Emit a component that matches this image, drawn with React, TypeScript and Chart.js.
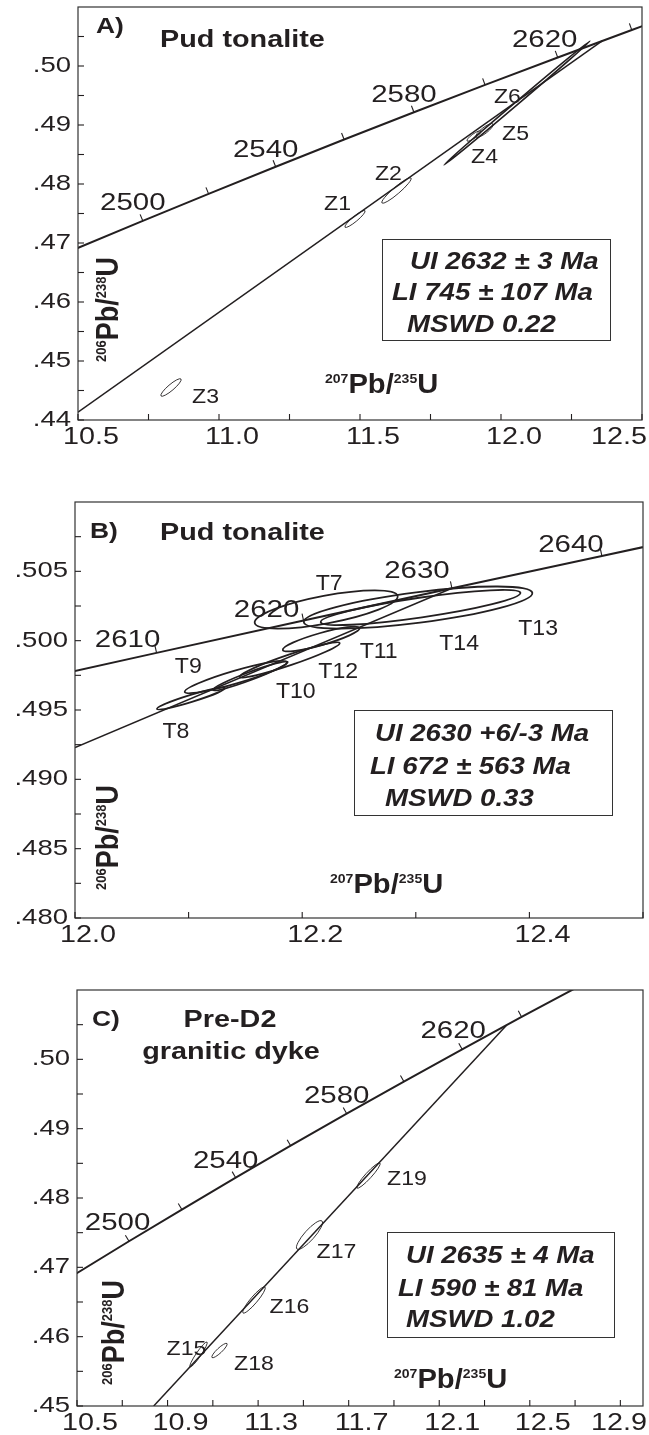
import React, { useEffect, useRef } from "react";
import { Chart, registerables } from "chart.js";

Chart.register(...registerables);

// ---------------- Concordia reference points (age Ma, 207Pb/235U, 206Pb/238U) ----------------
const concordiaAges = [2460, 2480, 2500, 2520, 2540, 2560, 2580, 2600, 2620, 2640, 2660, 2680];
const concordiaX = [10.2766, 10.5009, 10.7297, 10.9631, 11.201, 11.4437, 11.6913, 11.9437, 12.2012, 12.4638, 12.7316, 13.0048];
const concordiaY = [0.46464, 0.46919, 0.47376, 0.47833, 0.48293, 0.48754, 0.49216, 0.49679, 0.50145, 0.50611, 0.51079, 0.51548];

const concordiaAgesB = [2600, 2610, 2620, 2630, 2640, 2650];
const concordiaXB = [11.9437, 12.0718, 12.2012, 12.3318, 12.4638, 12.597];
const concordiaYB = [0.49679, 0.49912, 0.50145, 0.50378, 0.50611, 0.50845];

// ---------------- Panel A ----------------
const xMajorA = [10.5, 11.0, 11.5, 12.0, 12.5];
const xLabelsA = ["10.5", "11.0", "11.5", "12.0", "12.5"];
const xMinorA = [10.75, 11.25, 11.75, 12.25];
const yMajorA = [0.44, 0.45, 0.46, 0.47, 0.48, 0.49, 0.5];
const yLabelsA = [".44", ".45", ".46", ".47", ".48", ".49", ".50"];
const yMinorA = [0.445, 0.455, 0.465, 0.475, 0.485, 0.495, 0.505];
const tickAgesA = [2500, 2520, 2540, 2560, 2580, 2600, 2620, 2640];
const labelAgesA = [2500, 2540, 2580, 2620];
const discordiaXA = [10.5, 12.3588];
const discordiaYA = [0.44132, 0.50425];
const grainsA = ["Z1", "Z2", "Z3", "Z4", "Z5", "Z6"];
const grainXA = [11.4823, 11.6294, 10.8298, 11.9043, 11.9415, 12.0567];
const grainYA = [0.47407, 0.4789, 0.44551, 0.48814, 0.48907, 0.49373];
const grainEndXA = [11.5177, 11.6809, 10.8652, 11.929, 11.9716, 12.3156];
const grainEndYA = [0.47547, 0.48102, 0.44695, 0.48898, 0.49017, 0.50424];
const grainRatioA = [0.2, 0.18, 0.23, 0.25, 0.28, 0.016];
const resultA = ["UI 2632 ± 3 Ma", "LI 745 ± 107 Ma", "MSWD 0.22"];

// ---------------- Panel B ----------------
const xMajorB = [12.0, 12.2, 12.4];
const xLabelsB = ["12.0", "12.2", "12.4"];
const xMinorB = [12.1, 12.3, 12.5];
const yMajorB = [0.48, 0.485, 0.49, 0.495, 0.5, 0.505];
const yLabelsB = [".480", ".485", ".490", ".495", ".500", ".505"];
const yMinorB = [0.4825, 0.4875, 0.4925, 0.4975, 0.5025, 0.5075];
const tickAgesB = [2610, 2620, 2630, 2640];
const labelAgesB = [2610, 2620, 2630, 2640];
const discordiaXB = [12.0, 12.3318];
const discordiaYB = [0.4923, 0.50378];
const grainsB = ["T7", "T8", "T9", "T10", "T11", "T12", "T13", "T14"];
const grainXB = [12.2211, 12.102, 12.1415, 12.1543, 12.2167, 12.189, 12.302, 12.3042];
const grainYB = [0.50225, 0.49583, 0.49738, 0.49745, 0.50012, 0.49861, 0.50239, 0.50239];
const grainEndXB = [12.284, 12.1319, 12.1864, 12.1873, 12.2505, 12.233, 12.4026, 12.3921];
const grainEndYB = [0.50322, 0.49659, 0.49846, 0.49846, 0.50091, 0.49983, 0.50344, 0.50344];
const grainRatioB = [0.19, 0.1, 0.12, 0.1, 0.15, 0.1, 0.133, 0.098];
const resultB = ["UI 2630 +6/-3 Ma", "LI 672 ± 563 Ma", "MSWD 0.33"];

// ---------------- Panel C ----------------
const xMajorC = [10.5, 10.9, 11.3, 11.7, 12.1, 12.5, 12.9];
const xLabelsC = ["10.5", "10.9", "11.3", "11.7", "12.1", "12.5", "12.9"];
const xMinorC = [10.7, 11.1, 11.5, 11.9, 12.3, 12.7];
const yMajorC = [0.45, 0.46, 0.47, 0.48, 0.49, 0.5];
const yLabelsC = [".45", ".46", ".47", ".48", ".49", ".50"];
const yMinorC = [0.455, 0.465, 0.475, 0.485, 0.495, 0.505];
const tickAgesC = [2500, 2520, 2540, 2560, 2580, 2600, 2620, 2640];
const labelAgesC = [2500, 2540, 2580, 2620];
const discordiaXC = [10.8388, 12.3982];
const discordiaYC = [0.45, 0.50495];
const grainsC = ["Z15", "Z16", "Z17", "Z18", "Z19"];
const grainXC = [11.0367, 11.2818, 11.5269, 11.1294, 11.7875];
const grainYC = [0.45743, 0.46529, 0.47466, 0.458, 0.48324];
const grainEndXC = [11.0742, 11.3304, 11.5821, 11.1625, 11.8383];
const grainEndYC = [0.45923, 0.46716, 0.47668, 0.45901, 0.48505];
const grainRatioC = [0.16, 0.2, 0.27, 0.24, 0.18];
const resultC = ["UI 2635 ± 4 Ma", "LI 590 ± 81 Ma", "MSWD 1.02"];

// ---------------- styling / layout ----------------
const INK = "#231f20";
const FAM = '"Liberation Sans", Arial, Helvetica, sans-serif';

type TextItem = { t: string; dx: number; dy: number; font: string; stretch: number; align: CanvasTextAlign };

type Panel = {
  top: number;
  height: number;
  pad: { left: number; top: number; right: number; bottom: number };
  xMin: number; xMax: number; yMin: number; yMax: number;
  xMajor: number[]; xLabels: string[]; xMinor: number[];
  yMajor: number[]; yLabels: string[]; yMinor: number[];
  concAges: number[]; concX: number[]; concY: number[];
  tickAges: number[]; labelAges: number[]; ageOffsets: number[][];
  discX: number[]; discY: number[];
  names: string[]; gx: number[]; gy: number[]; ex: number[]; ey: number[]; ratio: number[];
  nameOffsets: number[][]; nameFont: string; nameStretch: number;
  ellWidth: number[];
  texts: TextItem[];
  xTitle: number[]; yTitle: number[];
  box: { dx: number; dy: number; w: number; h: number };
  result: string[]; resultPos: number[][];
};

function drawText(ctx: CanvasRenderingContext2D, s: string, x: number, y: number, font: string, stretch: number, align: CanvasTextAlign = "left") {
  ctx.save();
  ctx.font = font;
  ctx.fillStyle = INK;
  ctx.textAlign = align;
  ctx.textBaseline = "alphabetic";
  ctx.translate(x, y);
  ctx.scale(stretch, 1);
  ctx.fillText(s, 0, 0);
  ctx.restore();
}

function drawIsotope(ctx: CanvasRenderingContext2D, parts: [string, boolean][], x: number, y: number, vertical: boolean) {
  ctx.save();
  ctx.fillStyle = INK;
  ctx.textBaseline = "alphabetic";
  ctx.textAlign = "left";
  ctx.translate(x, y);
  if (vertical) {
    ctx.rotate(-Math.PI / 2);
    ctx.scale(1.0, 1.18);
  } else {
    ctx.scale(1.08, 1.0);
  }
  let cx = 0;
  for (const [s, sup] of parts) {
    ctx.font = sup ? `bold 13px ${FAM}` : `bold 27px ${FAM}`;
    ctx.fillText(s, cx, sup ? -10 : 0);
    cx += ctx.measureText(s).width;
  }
  ctx.restore();
}

function makePlugin(p: Panel) {
  return {
    id: "concordiaDecor",
    afterDatasetsDraw(chart: any) {
      const ctx: CanvasRenderingContext2D = chart.ctx;
      const xs = chart.scales.x;
      const ys = chart.scales.y;
      const a = chart.chartArea;
      const X = (v: number) => xs.getPixelForValue(v);
      const Y = (v: number) => ys.getPixelForValue(v);
      ctx.save();

      // error ellipses
      ctx.save();
      ctx.beginPath();
      ctx.rect(a.left, a.top, a.right - a.left, a.bottom - a.top);
      ctx.clip();
      ctx.strokeStyle = INK;
      p.names.forEach((_, i) => {
        const cx = X(p.gx[i]);
        const cy = Y(p.gy[i]);
        const ux = X(p.ex[i]) - cx;
        const uy = Y(p.ey[i]) - cy;
        const ra = Math.hypot(ux, uy);
        const ang = Math.atan2(uy, ux);
        ctx.lineWidth = p.ellWidth[i];
        ctx.beginPath();
        ctx.ellipse(cx, cy, ra, Math.max(0.6, ra * p.ratio[i]), ang, 0, Math.PI * 2);
        ctx.stroke();
      });
      ctx.restore();

      // age ticks on concordia
      ctx.strokeStyle = INK;
      ctx.lineWidth = 1.1;
      p.tickAges.forEach((age) => {
        const i = p.concAges.indexOf(age);
        if (i < 0) return;
        const px = X(p.concX[i]);
        const py = Y(p.concY[i]);
        const i0 = Math.max(0, i - 1);
        const i1 = Math.min(p.concAges.length - 1, i + 1);
        let tx = X(p.concX[i1]) - X(p.concX[i0]);
        let ty = Y(p.concY[i1]) - Y(p.concY[i0]);
        const l = Math.hypot(tx, ty);
        tx /= l; ty /= l;
        const nx = ty, ny = -tx;
        ctx.beginPath();
        ctx.moveTo(px, py);
        ctx.lineTo(px + nx * 7, py + ny * 7);
        ctx.stroke();
      });

      // age labels
      p.labelAges.forEach((age, k) => {
        const i = p.concAges.indexOf(age);
        const px = X(p.concX[i]);
        const py = Y(p.concY[i]);
        drawText(ctx, String(age), px + p.ageOffsets[k][0], py + p.ageOffsets[k][1], `23px ${FAM}`, 1.28, "center");
      });

      // grain labels
      p.names.forEach((n, i) => {
        const cx = X(p.gx[i]);
        const cy = Y(p.gy[i]);
        drawText(ctx, n, cx + p.nameOffsets[i][0], cy + p.nameOffsets[i][1], p.nameFont, p.nameStretch, "center");
      });

      // frame
      ctx.strokeStyle = "#333";
      ctx.lineWidth = 1.2;
      ctx.strokeRect(a.left, a.top, a.right - a.left, a.bottom - a.top);

      // inward axis ticks
      ctx.lineWidth = 1.1;
      ctx.strokeStyle = INK;
      [...p.xMajor, ...p.xMinor].forEach((v) => {
        const x = X(v);
        ctx.beginPath();
        ctx.moveTo(x, a.bottom);
        ctx.lineTo(x, a.bottom - 6);
        ctx.stroke();
      });
      [...p.yMajor, ...p.yMinor].forEach((v) => {
        const y = Y(v);
        ctx.beginPath();
        ctx.moveTo(a.left, y);
        ctx.lineTo(a.left + 6, y);
        ctx.stroke();
      });

      // tick labels
      const tf = `23px ${FAM}`;
      p.xMajor.forEach((v, i) => {
        ctx.font = tf;
        const w = ctx.measureText(p.xLabels[i]).width * 1.25;
        let cx = X(v) + 13;
        if (cx + w / 2 > chart.width - 2) cx = chart.width - 2 - w / 2;
        drawText(ctx, p.xLabels[i], cx, a.bottom + 24, tf, 1.25, "center");
      });
      p.yMajor.forEach((v, i) => {
        drawText(ctx, p.yLabels[i], a.left - 7, Y(v) + 6, `22px ${FAM}`, 1.25, "right");
      });

      // titles
      p.texts.forEach((t) => drawText(ctx, t.t, a.left + t.dx, a.top + t.dy, t.font, t.stretch, t.align));

      // axis titles
      drawIsotope(ctx, [["207", true], ["Pb/", false], ["235", true], ["U", false]], a.left + p.xTitle[0], a.bottom + p.xTitle[1], false);
      drawIsotope(ctx, [["206", true], ["Pb/", false], ["238", true], ["U", false]], a.left + p.yTitle[0], a.top + p.yTitle[1], true);

      // result box
      ctx.strokeStyle = "#333";
      ctx.lineWidth = 1;
      ctx.strokeRect(a.left + p.box.dx + 0.5, a.top + p.box.dy + 0.5, p.box.w, p.box.h);
      p.result.forEach((s, i) => {
        drawText(ctx, s, a.left + p.resultPos[i][0], a.top + p.resultPos[i][1], `italic bold 23px ${FAM}`, 1.2, "left");
      });

      ctx.restore();
    },
  };
}

const boldTitle = `bold 24px ${FAM}`;

const panels: Panel[] = [
  {
    top: 0, height: 460,
    pad: { left: 78, top: 7, right: 7, bottom: 40 },
    xMin: 10.5, xMax: 12.5, yMin: 0.44, yMax: 0.51,
    xMajor: xMajorA, xLabels: xLabelsA, xMinor: xMinorA,
    yMajor: yMajorA, yLabels: yLabelsA, yMinor: yMinorA,
    concAges: concordiaAges, concX: concordiaX, concY: concordiaY,
    tickAges: tickAgesA, labelAges: labelAgesA,
    ageOffsets: [[-10, -11], [-10, -10], [-10, -10], [-13, -10.5]],
    discX: discordiaXA, discY: discordiaYA,
    names: grainsA, gx: grainXA, gy: grainYA, ex: grainEndXA, ey: grainEndYA, ratio: grainRatioA,
    nameOffsets: [[-17.5, -9], [-8, -10.5], [34.5, 15.5], [10.5, 27], [31, 9.5], [-9.5, 0]],
    nameFont: `21px ${FAM}`, nameStretch: 1.1,
    ellWidth: [0.9, 0.9, 0.9, 0.9, 0.9, 1.6],
    texts: [
      { t: "A)", dx: 18, dy: 26, font: `bold 22px ${FAM}`, stretch: 1.2, align: "left" },
      { t: "Pud tonalite", dx: 82, dy: 40, font: boldTitle, stretch: 1.2, align: "left" },
    ],
    xTitle: [247, -27], yTitle: [40, 355],
    box: { dx: 304, dy: 232, w: 228, h: 101 },
    result: resultA, resultPos: [[332, 262], [314, 293], [329, 325]],
  },
  {
    top: 460, height: 500,
    pad: { left: 75, top: 42, right: 6, bottom: 42 },
    xMin: 12.0, xMax: 12.5, yMin: 0.48, yMax: 0.51,
    xMajor: xMajorB, xLabels: xLabelsB, xMinor: xMinorB,
    yMajor: yMajorB, yLabels: yLabelsB, yMinor: yMinorB,
    concAges: concordiaAgesB, concX: concordiaXB, concY: concordiaYB,
    tickAges: tickAgesB, labelAges: labelAgesB,
    ageOffsets: [[-29, -6], [-37, -4], [-35, -10], [-31, -4]],
    discX: discordiaXB, discY: discordiaYB,
    names: grainsB, gx: grainXB, gy: grainYB, ex: grainEndXB, ey: grainEndYB, ratio: grainRatioB,
    nameOffsets: [[3, -19.5], [-15, 39.5], [-47.5, -4], [45.5, 22], [57.5, 19], [48.5, 18], [120, 27.5], [38.5, 42.5]],
    nameFont: `22px ${FAM}`, nameStretch: 1.05,
    ellWidth: [1.8, 1.8, 1.8, 1.8, 1.8, 1.8, 1.8, 1.8],
    texts: [
      { t: "B)", dx: 15, dy: 36, font: `bold 22px ${FAM}`, stretch: 1.2, align: "left" },
      { t: "Pud tonalite", dx: 85, dy: 38, font: boldTitle, stretch: 1.2, align: "left" },
    ],
    xTitle: [255, -25], yTitle: [43, 388],
    box: { dx: 279, dy: 208, w: 258, h: 105 },
    result: resultB, resultPos: [[300, 239], [295, 272], [310, 304]],
  },
  {
    top: 960, height: 475,
    pad: { left: 77, top: 30, right: 6, bottom: 29 },
    xMin: 10.5, xMax: 13.0, yMin: 0.45, yMax: 0.51,
    xMajor: xMajorC, xLabels: xLabelsC, xMinor: xMinorC,
    yMajor: yMajorC, yLabels: yLabelsC, yMinor: yMinorC,
    concAges: concordiaAges, concX: concordiaX, concY: concordiaY,
    tickAges: tickAgesC, labelAges: labelAgesC,
    ageOffsets: [[-11.5, -11], [-10, -10], [-10, -11], [-9, -11]],
    discX: discordiaXC, discY: discordiaYC,
    names: grainsC, gx: grainXC, gy: grainYC, ex: grainEndXC, ey: grainEndYC, ratio: grainRatioC,
    nameOffsets: [[-12, 0.5], [35.5, 13], [27, 23], [34.5, 19.5], [38.5, 9.5]],
    nameFont: `21px ${FAM}`, nameStretch: 1.1,
    ellWidth: [0.9, 0.9, 0.9, 0.9, 0.9],
    texts: [
      { t: "C)", dx: 15, dy: 36, font: `bold 22px ${FAM}`, stretch: 1.2, align: "left" },
      { t: "Pre-D2", dx: 153, dy: 37, font: boldTitle, stretch: 1.2, align: "center" },
      { t: "granitic dyke", dx: 154, dy: 69, font: boldTitle, stretch: 1.2, align: "center" },
    ],
    xTitle: [317, -18], yTitle: [47, 395],
    box: { dx: 310, dy: 242, w: 227, h: 105 },
    result: resultC, resultPos: [[329, 273], [321, 306], [329, 337]],
  },
];

function PanelChart({ p }: { p: Panel }) {
  const ref = useRef<HTMLCanvasElement>(null);
  useEffect(() => {
    if (!ref.current) return;
    const chart = new Chart(ref.current, {
      type: "scatter",
      data: {
        datasets: [
          {
            label: "Concordia",
            data: p.concX.map((x, i) => ({ x, y: p.concY[i] })),
            showLine: true,
            borderColor: INK,
            borderWidth: 2,
            pointRadius: 0,
            fill: false,
          },
          {
            label: "Discordia",
            data: p.discX.map((x, i) => ({ x, y: p.discY[i] })),
            showLine: true,
            borderColor: INK,
            borderWidth: 1.5,
            pointRadius: 0,
            fill: false,
          },
        ],
      },
      options: {
        responsive: false,
        animation: false,
        devicePixelRatio: 1,
        events: [],
        layout: { padding: p.pad },
        plugins: { legend: { display: false }, tooltip: { enabled: false } },
        scales: {
          x: { type: "linear", min: p.xMin, max: p.xMax, display: false },
          y: { type: "linear", min: p.yMin, max: p.yMax, display: false },
        },
      },
      plugins: [makePlugin(p) as any],
    } as any);
    return () => chart.destroy();
  }, [p]);
  return (
    <canvas
      ref={ref}
      width={649}
      height={p.height}
      style={{ position: "absolute", left: 0, top: p.top, width: 649, height: p.height, display: "block" }}
    />
  );
}

export default function App() {
  return (
    <div style={{ position: "absolute", left: 0, top: 0, width: 649, height: 1435, background: "#fff", overflow: "hidden" }}>
      {panels.map((p, i) => (
        <PanelChart key={i} p={p} />
      ))}
    </div>
  );
}
